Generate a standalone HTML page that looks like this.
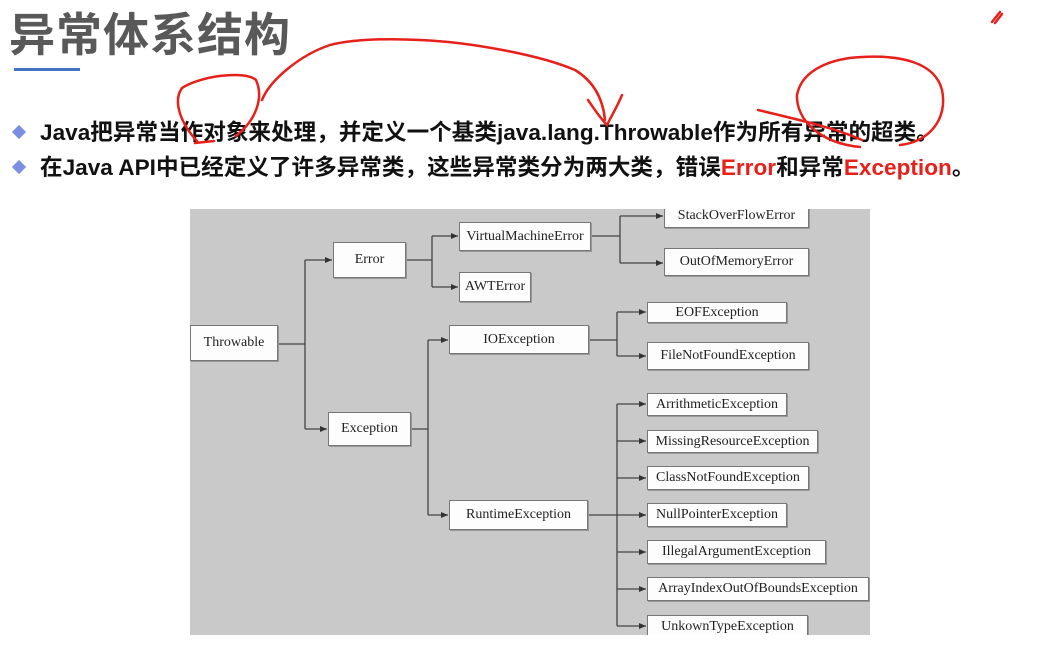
<!DOCTYPE html>
<html><head><meta charset="utf-8"><style>
body{margin:0;width:1062px;height:653px;background:#fff;position:relative;overflow:hidden;font-family:"Liberation Sans","Noto Sans CJK SC",sans-serif}
.t{position:absolute;left:9px;top:-1px;font-size:46px;font-weight:bold;color:#595959;letter-spacing:1px}
.ul{position:absolute;left:14px;top:68px;width:66px;height:3px;background:#4472c4}
.b{position:absolute;left:14px;font-size:22.6px;font-weight:bold;color:#111;white-space:nowrap}
.b i{font-style:normal;display:inline-block;width:10px;height:10px;background:#7b8fe0;transform:rotate(45deg);margin-right:16px;vertical-align:3px}
.r{color:#e8201a}
.d{position:absolute;left:190px;top:209px;width:680px;height:426px;background:#c9c9c9;overflow:hidden}
.n{position:absolute;background:#fdfdfd;border:1px solid #777;box-shadow:1px 1px 0 #999;font-family:"Liberation Serif",serif;font-size:14px;color:#222;display:flex;align-items:center;justify-content:center;box-sizing:border-box}
</style></head><body>
<div class="t">异常体系结构</div>
<div class="ul"></div>
<div class="b" style="top:114px"><i></i>Java把异常当作对象来处理，并定义一个基类java.lang.Throwable作为所有异常的超类。</div>
<div class="b" style="top:149px"><i></i>在Java API中已经定义了许多异常类，这些异常类分为两大类，错误<span class="r">Error</span>和异常<span class="r">Exception</span>。</div>
<div class="d">
<svg width="680" height="426" style="position:absolute;left:0;top:0" fill="none" stroke="#444" stroke-width="1.3">
<defs><marker id="a" markerWidth="8" markerHeight="8" refX="7" refY="4" orient="auto" markerUnits="userSpaceOnUse"><path d="M0,1 L7,4 L0,7z" fill="#333" stroke="none"/></marker></defs>
<path d="M88,135 H115 M115,51 V220"/>
<path d="M115,51 H142" marker-end="url(#a)"/><path d="M115,220 H137" marker-end="url(#a)"/>
<path d="M216,51 H242 M242,27 V78"/>
<path d="M242,27 H268" marker-end="url(#a)"/><path d="M242,78 H268" marker-end="url(#a)"/>
<path d="M401,27 H430 M430,7 V54"/>
<path d="M430,7 H473" marker-end="url(#a)"/><path d="M430,54 H473" marker-end="url(#a)"/>
<path d="M221,220 H238 M238,131 V306"/>
<path d="M238,131 H258" marker-end="url(#a)"/><path d="M238,306 H258" marker-end="url(#a)"/>
<path d="M399,131 H427 M427,103 V147"/>
<path d="M427,103 H456" marker-end="url(#a)"/><path d="M427,147 H456" marker-end="url(#a)"/>
<path d="M398,306 H427 M427,195 V417"/>
<path d="M427,195 H456" marker-end="url(#a)"/><path d="M427,232 H456" marker-end="url(#a)"/><path d="M427,269 H456" marker-end="url(#a)"/><path d="M427,306 H456" marker-end="url(#a)"/><path d="M427,343 H456" marker-end="url(#a)"/><path d="M427,380 H456" marker-end="url(#a)"/><path d="M427,417 H456" marker-end="url(#a)"/>
</svg>
<div class="n" style="left:0;top:116px;width:88px;height:36px">Throwable</div>
<div class="n" style="left:143px;top:33px;width:73px;height:36px">Error</div>
<div class="n" style="left:138px;top:203px;width:83px;height:34px">Exception</div>
<div class="n" style="left:269px;top:13px;width:132px;height:29px">VirtualMachineError</div>
<div class="n" style="left:269px;top:63px;width:72px;height:30px">AWTError</div>
<div class="n" style="left:474px;top:-5px;width:145px;height:24px">StackOverFlowError</div>
<div class="n" style="left:474px;top:39px;width:145px;height:28px">OutOfMemoryError</div>
<div class="n" style="left:259px;top:116px;width:140px;height:29px">IOException</div>
<div class="n" style="left:457px;top:93px;width:140px;height:21px">EOFException</div>
<div class="n" style="left:457px;top:133px;width:162px;height:28px">FileNotFoundException</div>
<div class="n" style="left:259px;top:291px;width:139px;height:30px">RuntimeException</div>
<div class="n" style="left:457px;top:184px;width:140px;height:23px">ArrithmeticException</div>
<div class="n" style="left:457px;top:221px;width:171px;height:23px">MissingResourceException</div>
<div class="n" style="left:457px;top:257px;width:162px;height:24px">ClassNotFoundException</div>
<div class="n" style="left:457px;top:294px;width:140px;height:24px">NullPointerException</div>
<div class="n" style="left:457px;top:331px;width:179px;height:24px">IllegalArgumentException</div>
<div class="n" style="left:457px;top:368px;width:222px;height:24px">ArrayIndexOutOfBoundsException</div>
<div class="n" style="left:457px;top:406px;width:161px;height:24px">UnkownTypeException</div>
</div>
<svg width="1062" height="653" style="position:absolute;left:0;top:0" fill="none" stroke="#e8201a" stroke-width="2.5" stroke-linecap="round">
<path d="M197,141 C182,125 172,102 182,88 C200,76 245,70 256,80 C264,98 256,120 236,136 M195,143 L214,141"/>
<path d="M262,100 C270,80 300,55 330,45 C350,40 380,38 420,40 C470,42 540,55 575,70 C595,82 603,100 605,120 M588,100 C595,110 600,118 607,125 C612,115 618,105 622,95"/>
<path d="M758,110 C800,120 835,128 862,140 M860,147 C820,143 796,120 797,95 C802,68 835,58 862,57 C900,55 935,62 942,90 C948,118 930,142 900,145"/>
<path d="M992,22 L1000,12 M995,23 L1002,14"/>
</svg>
</body></html>
